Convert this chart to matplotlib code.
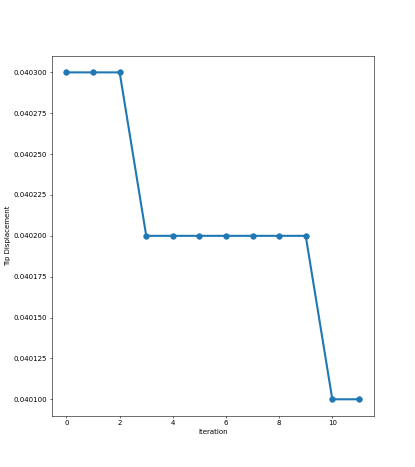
import matplotlib
matplotlib.use('Agg')
import matplotlib.pyplot as plt

iterations = [0, 1, 2, 3, 4, 5, 6, 7, 8, 9, 10, 11]
tip_displacement = [0.0403, 0.0403, 0.0403,
                    0.0402, 0.0402, 0.0402, 0.0402, 0.0402, 0.0402, 0.0402,
                    0.0401, 0.0401]

fig = plt.figure(figsize=(8.3, 9.34))
plt.plot(iterations, tip_displacement, marker='o', linewidth=3, markersize=8)
plt.xlabel('Iteration')
plt.ylabel('Tip Displacement')
plt.savefig('out.png', dpi=50)
